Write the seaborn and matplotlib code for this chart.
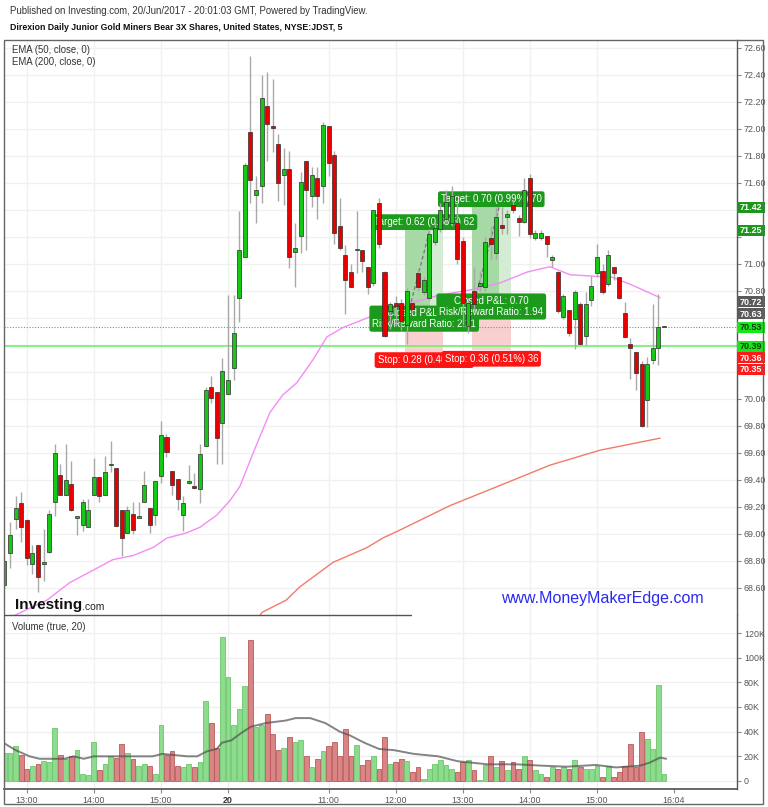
import numpy as np
import pandas as pd
import matplotlib
matplotlib.use("Agg")
import matplotlib.pyplot as plt
import seaborn as sns
from matplotlib.patches import Rectangle
from matplotlib.lines import Line2D

# ---------------- data (5-minute bars, 19 Jun 12:40 -> 20 Jun 16:00) ----------------
open_ = [68.62, 68.86, 69.11, 69.23, 69.10, 68.78, 68.92, 68.78, 68.87, 69.24,
         69.44, 69.29, 69.37, 69.12, 69.07, 69.05, 69.29, 69.42, 69.29, 69.51,
         69.49, 69.18, 69.01, 69.15, 69.12, 69.24, 69.19, 69.14, 69.43, 69.72,
         69.47, 69.41, 69.14, 69.38, 69.35, 69.33, 69.65, 70.09, 70.05, 69.82,
         70.04, 70.23, 70.75, 71.05, 71.98, 71.51, 71.58, 72.17, 72.02, 71.89,
         71.66, 71.70, 71.09, 71.21, 71.76, 71.50, 71.64, 71.58, 72.02, 71.81,
         71.28, 71.07, 70.94, 71.10, 71.10, 70.98, 70.86, 71.45, 70.94, 70.65,
         70.71, 70.71, 70.55, 70.71, 70.93, 70.79, 70.75, 71.16, 71.26, 71.33,
         71.30, 71.30, 71.17, 70.54, 70.80, 70.84, 70.83, 71.19, 71.08, 71.29,
         71.35, 71.44, 71.34, 71.31, 71.64, 71.19, 71.19, 71.21, 71.03, 70.94,
         70.61, 70.66, 70.59, 70.70, 70.47, 70.73, 70.93, 70.95, 70.85, 70.98,
         70.90, 70.64, 70.41, 70.35, 70.26, 69.99, 70.29, 70.38, 70.53]
high = [68.82, 69.09, 69.28, 69.31, 69.11, 68.92, 68.92, 69.04, 69.18, 69.67,
        69.52, 69.67, 69.54, 69.13, 69.26, 69.26, 69.56, 69.42, 69.58, 69.69,
        69.49, 69.18, 69.21, 69.24, 69.24, 69.47, 69.19, 69.39, 69.84, 69.74,
        69.47, 69.41, 69.28, 69.51, 69.45, 69.67, 70.09, 70.17, 70.05, 70.30,
        70.77, 70.77, 71.39, 71.75, 72.54, 71.65, 72.40, 72.42, 72.37, 71.96,
        71.86, 71.84, 71.30, 71.68, 71.76, 71.72, 71.72, 72.05, 72.02, 71.84,
        71.49, 71.14, 71.00, 71.39, 71.10, 70.98, 71.40, 71.49, 70.95, 70.72,
        70.76, 70.74, 70.82, 70.72, 70.96, 70.90, 71.26, 71.32, 71.45, 71.55,
        71.58, 71.45, 71.20, 70.75, 70.98, 70.95, 71.20, 71.28, 71.42, 71.42,
        71.40, 71.48, 71.36, 71.64, 71.67, 71.25, 71.25, 71.21, 71.07, 70.95,
        70.78, 70.66, 70.81, 70.72, 70.79, 70.91, 71.15, 71.00, 71.10, 70.98,
        70.90, 70.72, 70.45, 70.35, 70.28, 70.31, 70.70, 70.78, 70.54]
low = [68.60, 68.75, 69.04, 68.94, 68.77, 68.70, 68.57, 68.65, 68.86, 69.13,
       69.29, 69.29, 69.17, 68.99, 69.02, 69.05, 69.29, 69.24, 69.29, 69.46,
       69.06, 68.84, 69.01, 69.00, 69.12, 69.24, 69.01, 69.07, 69.38, 69.57,
       69.29, 69.18, 69.02, 69.37, 69.33, 69.23, 69.65, 69.97, 69.52, 69.52,
       70.04, 70.14, 70.57, 71.05, 71.45, 71.30, 71.45, 71.76, 71.83, 71.47,
       71.44, 70.97, 70.83, 71.08, 71.10, 71.42, 71.33, 71.45, 71.65, 71.15,
       71.10, 70.63, 70.83, 70.93, 70.94, 70.78, 70.84, 71.12, 70.46, 70.52,
       70.54, 70.51, 70.41, 70.64, 70.80, 70.77, 70.73, 71.14, 71.24, 71.30,
       71.28, 71.00, 70.55, 70.49, 70.65, 70.80, 70.80, 71.04, 71.04, 71.22,
       71.22, 71.38, 71.21, 71.30, 71.19, 71.18, 71.18, 71.05, 70.98, 70.64,
       70.59, 70.47, 70.37, 70.40, 70.40, 70.69, 70.90, 70.78, 70.84, 70.88,
       70.74, 70.45, 70.15, 70.07, 69.79, 69.79, 70.26, 70.25, 70.53]
close = [68.80, 68.99, 69.19, 69.05, 68.82, 68.86, 68.68, 68.79, 69.15, 69.60,
         69.29, 69.40, 69.18, 69.13, 69.24, 69.18, 69.42, 69.28, 69.46, 69.52,
         69.06, 68.97, 69.18, 69.03, 69.13, 69.36, 69.07, 69.39, 69.73, 69.61,
         69.36, 69.26, 69.23, 69.39, 69.34, 69.59, 70.07, 70.01, 69.71, 70.21,
         70.14, 70.49, 71.10, 71.73, 71.62, 71.55, 72.23, 72.04, 72.01, 71.60,
         71.70, 71.05, 71.12, 71.61, 71.55, 71.66, 71.50, 72.03, 71.75, 71.23,
         71.12, 70.88, 70.83, 71.11, 71.02, 70.83, 71.40, 71.15, 70.47, 70.70,
         70.69, 70.58, 70.80, 70.67, 70.83, 70.88, 71.22, 71.27, 71.40, 71.46,
         71.50, 71.04, 70.71, 70.71, 70.70, 70.86, 71.16, 71.15, 71.35, 71.27,
         71.37, 71.40, 71.31, 71.55, 71.22, 71.23, 71.23, 71.15, 71.05, 70.65,
         70.76, 70.49, 70.79, 70.41, 70.70, 70.84, 71.05, 70.79, 71.07, 70.93,
         70.75, 70.46, 70.38, 70.19, 69.80, 70.26, 70.38, 70.53, 70.54]
volume_k = [23, 23, 28, 21, 10, 12, 14, 16, 15, 43,
            21, 18, 20, 25, 6, 5, 32, 9, 14, 20,
            19, 30, 23, 18, 12, 14, 12, 6, 45, 21,
            24, 12, 11, 14, 11, 15, 65, 47, 27, 117,
            84, 45, 58, 77, 114, 44, 45, 54, 38, 25,
            27, 36, 32, 33, 20, 11, 18, 24, 28, 32,
            20, 42, 20, 29, 13, 17, 20, 10, 36, 14,
            15, 18, 16, 7, 11, 2, 10, 14, 17, 13,
            10, 7, 15, 17, 9, 0.5, 13, 20, 11, 16,
            9, 15, 10, 20, 17, 9, 6, 3, 11, 10,
            11, 10, 17, 11, 10, 10, 12, 3, 12, 3,
            7, 12, 30, 11, 40, 34, 26, 78, 6]

ema50_bar = [1, 5, 7.6, 11.7, 15.8, 19.4, 23, 26.6, 29.1, 32.7, 35, 38, 40.4, 42.1,
             44.5, 47.5, 49.8, 52.3, 55.2, 57.7, 60.6, 64.9, 69.5, 74.3, 77.9,
             83.6, 88.7, 93.5, 97.6, 101.2, 105.3, 108.9, 112.5, 117.3]
ema50_val = [68.38, 68.46, 68.51, 68.64, 68.73, 68.81, 68.84, 68.90, 68.97, 69.01,
             69.05, 69.14, 69.25, 69.35, 69.60, 69.90, 70.03, 70.12, 70.29, 70.46,
             70.53, 70.60, 70.68, 70.73, 70.77, 70.81, 70.86, 70.94, 70.98, 70.92,
             70.91, 70.90, 70.84, 70.75]
ema200_bar = [44.5, 46.1, 50.4, 52.9, 58.8, 64.9, 67.7, 70.8, 79.7, 88.7, 97.6,
              106.5, 113.7, 117.3]
ema200_val = [68.32, 68.42, 68.51, 68.61, 68.79, 68.90, 68.97, 69.03, 69.21, 69.36,
              69.51, 69.62, 69.68, 69.71]
volma_bar = [0, 2, 4.5, 6.3, 10.7, 12.4, 14.2, 16, 21.2, 26.5, 28.3, 32.7, 34.5, 36.2,
             38, 38.9, 40.6, 42.4, 44.1, 46.8, 50.3, 52.1, 54.7, 57.4, 60, 61.8, 64.4,
             67, 69.7, 73.2, 77.6, 81.1, 86.5, 91.7, 96.2, 100.6, 105.8, 109.4, 113.7,
             115.5, 117.3, 118.4]
volma_val = [30.5, 25, 20, 18, 18, 20, 18, 20, 20, 20, 22, 20, 20, 24, 26, 31, 33, 39,
             44, 47, 49, 51, 51, 47, 40, 37, 31, 26, 25, 22, 20, 16, 13.5, 13.5, 12.4,
             11.6, 13, 11, 12.4, 15, 19, 18]

time_tick_bar = [4, 16, 28, 40, 58, 70, 82, 94, 106]
time_tick_lab = ["13:00", "14:00", "15:00", "20", "11:00", "12:00", "13:00", "14:00", "15:00"]
cursor_bar, cursor_lab = 119.8, "16:04"
price_ticks = [68.6, 68.8, 69.0, 69.2, 69.4, 69.6, 69.8, 70.0, 70.2, 70.4, 70.6, 70.8,
               71.0, 71.2, 71.4, 71.6, 71.8, 72.0, 72.2, 72.4, 72.6]
vol_ticks = [0, 20, 40, 60, 80, 100, 120]
vol_tick_lab = ["0", "20K", "40K", "60K", "80K", "100K", "120K"]

# trades (long positions): entry bar, exit bar, zone end bar, entry, target, stop
trade_entry_bar = [71.7, 83.6]
trade_hit_bar = [76.1, 88.5]
trade_end_bar = [78.5, 90.6]
trade_entry = [70.63, 70.72]
trade_target = [71.25, 71.42]
trade_stop = [70.35, 70.36]
trade_target_txt = ["Target: 0.62 (0.88%) 62", "Target: 0.70 (0.99%) 70"]
trade_stop_txt = ["Stop: 0.28 (0.40%) 28", "Stop: 0.36 (0.51%) 36"]
trade_pl_txt = ["Closed P&L: 0.62\nRisk/Reward Ratio: 2.21",
                "Closed P&L: 0.70\nRisk/Reward Ratio: 1.94"]

last_price = 70.53
hline_price = 70.39
axis_label_vals = [71.42, 71.25, 70.72, 70.63, 70.53, 70.39, 70.36, 70.35]
axis_label_col = ["#1c971c", "#1c971c", "#5a5a5a", "#5a5a5a", "#19e619", "#19e619",
                  "#ff1a1a", "#ff1a1a"]
axis_label_txtcol = ["white", "white", "white", "white", "#0a3a0a", "#0a3a0a",
                     "white", "white"]

# ---------------- figure ----------------
sns.set_theme(style="white")
plt.rcParams['font.family'] = ['Liberation Sans', 'DejaVu Sans']

W, H = 768, 807
fig = plt.figure(figsize=(W / 100, H / 100), dpi=100)
fig.patch.set_facecolor("white")

def fbox(l, t, r, b):
    return [l / W, 1 - b / H, (r - l) / W, (b - t) / H]

ax = fig.add_axes(fbox(4, 40, 737, 615))
axv = fig.add_axes(fbox(4, 615, 737, 789), sharex=ax)

n = len(open_)
idx = np.arange(n)
o = np.array(open_); c = np.array(close); hi = np.array(high); lo = np.array(low)
up = c >= o

ax.set_xlim(-0.07, 131.06)
ax.set_ylim(68.40, 72.659)
axv.set_ylim(-6.5, 134.6)

grid_c = "#f0f0f0"
for t in time_tick_bar:
    ax.axvline(t, color=grid_c, lw=1, zorder=0)
    axv.axvline(t, color=grid_c, lw=1, zorder=0)
for p in price_ticks:
    ax.axhline(p, color=grid_c, lw=1, zorder=0)
for v in vol_ticks:
    axv.axhline(v, color=grid_c, lw=1, zorder=0)

# trade zones
for k in range(2):
    x0, x1, x2 = trade_entry_bar[k], trade_hit_bar[k], trade_end_bar[k]
    ax.add_patch(Rectangle((x0, trade_entry[k]), x1 - x0, trade_target[k] - trade_entry[k],
                           fc="#a6d9a6", ec="none", zorder=1))
    ax.add_patch(Rectangle((x1, trade_entry[k]), x2 - x1, trade_target[k] - trade_entry[k],
                           fc="#d4ecd4", ec="none", zorder=1))
    ax.add_patch(Rectangle((x0, trade_stop[k]), x2 - x0, trade_entry[k] - trade_stop[k],
                           fc="#f9cfcf", ec="none", zorder=1))
    ax.plot([x0 + 0.5, x1], [trade_entry[k], trade_target[k]], color="#777777",
            lw=0.9, ls=(0, (3, 2)), zorder=2)

# horizontal lines
ax.axhline(hline_price, color="#70f070", lw=1.2, zorder=2)
ax.axhline(last_price, color="#3cbf3c", lw=0.8, ls=(0, (1, 1.5)), zorder=2)

# EMAs
sns.lineplot(x=ema50_bar, y=ema50_val, ax=ax, color="#f58cf5", lw=1.0, zorder=3)
sns.lineplot(x=ema200_bar, y=ema200_val, ax=ax, color="#f27a6a", lw=1.0, zorder=3)

# trade labels (below candles)
box_kw = dict(boxstyle="round,pad=0.3,rounding_size=0.25", ec="none")
fs_lab = 6.9
for k in range(2):
    xm = (trade_entry_bar[k] + trade_end_bar[k]) / 2
    ax.text(xm, trade_target[k] + 0.06, trade_target_txt[k], ha="center", va="center",
            fontsize=fs_lab, color="white", bbox=dict(fc="#1c9a1c", **box_kw), zorder=4 + k * 0.01)
for k in range(2):
    xm = (trade_entry_bar[k] + trade_end_bar[k]) / 2
    ax.text(xm, trade_entry[k] - 0.035, trade_pl_txt[k], ha="center", va="center",
            fontsize=fs_lab, color="white", multialignment="center", linespacing=1.05,
            bbox=dict(fc="#1c9a1c", **box_kw), zorder=4.2 + k * 0.01)
for k in range(2):
    xm = (trade_entry_bar[k] + trade_end_bar[k]) / 2
    ax.text(xm, trade_stop[k] - 0.062, trade_stop_txt[k], ha="center", va="center",
            fontsize=fs_lab, color="white", bbox=dict(fc="#ff1414", **box_kw), zorder=4.4 + k * 0.01)

# candles
ax.vlines(idx, lo, hi, color="#a9a9a9", lw=1.0, zorder=6)
body_col = np.where(up, "#14c814", "#e80000")
ax.bar(idx, np.maximum(np.abs(c - o), 0.012), bottom=np.minimum(o, c), width=0.72,
       color=body_col, edgecolor="#2b2b2b", linewidth=0.5, zorder=7)

# volume
vol_face = np.where(up, "#8ddc8d", "#d98585")
vol_edge = np.where(up, "#6cc66c", "#b85a5a")
axv.bar(idx, volume_k, width=0.86, color=vol_face, edgecolor=vol_edge, linewidth=0.6, zorder=2)
sns.lineplot(x=volma_bar, y=volma_val, ax=axv, color="#505050", lw=1.4, alpha=0.7, zorder=3)

# axes styling
for a in (ax, axv):
    a.set_xlabel(""); a.set_ylabel("")
    for s in ("left", "top", "bottom"):
        a.spines[s].set_visible(False)
    a.spines["right"].set_color("#555555")
    a.spines["right"].set_linewidth(1.0)
    a.yaxis.tick_right()
    a.tick_params(axis="y", which="both", right=True, left=False, direction="out", length=3,
                  width=0.8, color="#888888", labelsize=6.4, labelcolor="#555555", pad=2)
axv.spines["bottom"].set_visible(True)
axv.spines["bottom"].set_color("#555555")

# tick labels hidden behind the right-axis price labels are left blank
ax.set_yticks(price_ticks)
fig.canvas.draw()
label_px = [ax.transData.transform((0, v))[1] for v in axis_label_vals]
def covered(p):
    y = ax.transData.transform((0, p))[1]
    return any(abs(y - ly) < 7 for ly in label_px) or (70.15 < p < 70.45)
ax.set_yticklabels(["" if covered(p) else f"{p:.2f}" for p in price_ticks])
axv.set_yticks(vol_ticks)
axv.set_yticklabels(vol_tick_lab)
ax.tick_params(axis="x", bottom=False, labelbottom=False)
axv.set_xticks(time_tick_bar + [cursor_bar])
axv.set_xticklabels(time_tick_lab + [cursor_lab])
axv.tick_params(axis="x", bottom=True, direction="out", length=3, width=0.8, color="#888888",
                labelsize=6.4, labelcolor="#555555", pad=2)
for lbl in axv.get_xticklabels():
    if lbl.get_text() == "20":
        lbl.set_fontweight("bold")
        lbl.set_color("#333333")
ax.set_axisbelow(True)

# indicator titles
ax.text(8 / 733, 1 - 10 / 575, "EMA (50, close, 0)", transform=ax.transAxes, fontsize=6.9,
        color="#333333", va="center")
ax.text(8 / 733, 1 - 22 / 575, "EMA (200, close, 0)", transform=ax.transAxes, fontsize=6.9,
        color="#333333", va="center")
axv.text(8 / 733, 1 - 12 / 174, "Volume (true, 20)", transform=axv.transAxes, fontsize=6.9,
         color="#333333", va="center")

# overlay in pixel coordinates
ov = fig.add_axes([0, 0, 1, 1], zorder=10)
ov.set_xlim(0, W); ov.set_ylim(H, 0); ov.axis("off"); ov.patch.set_alpha(0)

fig.canvas.draw()
def price_to_px(p):
    return H - ax.transData.transform((0, p))[1]

# right-axis price labels with stacking
ys = []
prev = None
for v in axis_label_vals:
    y = price_to_px(v)
    if prev is not None and y < prev + 11.5:
        y = prev + 11.5
    ys.append(y); prev = y
for v, y, fc, tc in zip(axis_label_vals, ys, axis_label_col, axis_label_txtcol):
    ov.add_patch(Rectangle((737, y - 5.5), 28, 11, fc=fc, ec="none"))
    ov.text(751, y + 0.3, f"{v:.2f}", ha="center", va="center", fontsize=6.5,
            color=tc, fontweight="bold")

# frame and separators
ov.add_patch(Rectangle((4, 40), 759, 764, fill=False, ec="#666666", lw=1.0))
ov.add_line(Line2D([4, 411], [615, 615], color="#555555", lw=1.0))

# header
fig.text(10 / W, 1 - 11 / H, "Published on Investing.com, 20/Jun/2017 - 20:01:03 GMT, Powered by TradingView.",
         fontsize=6.9, color="#333333", va="center")
fig.text(10 / W, 1 - 28 / H, "Direxion Daily Junior Gold Miners Bear 3X Shares, United States, NYSE:JDST, 5",
         fontsize=6.3, color="#111111", va="center", fontweight="bold")

# watermarks
inv = ov.text(15, 605, "Investing", fontsize=11, fontweight="bold", color="#111111",
              va="center", ha="left")
fig.canvas.draw()
inv_right_px = inv.get_window_extent().x1
com_x = ov.transData.inverted().transform((inv_right_px + 0.3, 0))[0]
ov.text(com_x, 607, ".com", fontsize=7.5, color="#222222", va="center", ha="left")
ov.text(602, 599, "www.MoneyMakerEdge.com", fontsize=11.5, color="#2a2af0", ha="center",
        va="center")

fig.savefig("out.png", dpi=100, facecolor="white")
